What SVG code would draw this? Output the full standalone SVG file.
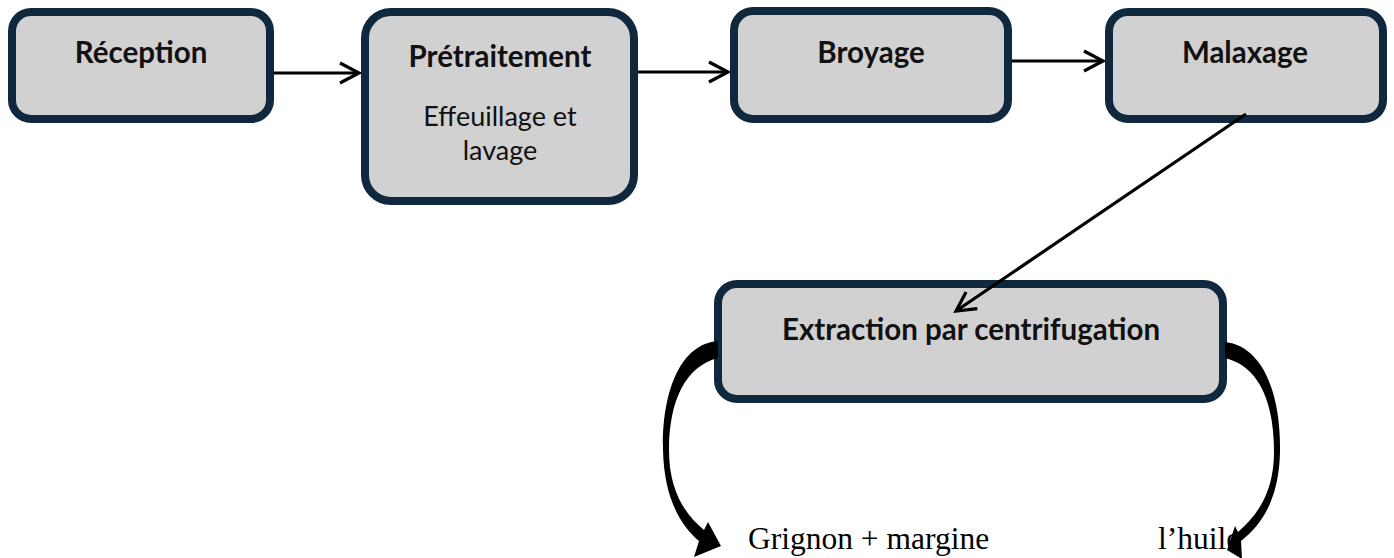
<svg xmlns="http://www.w3.org/2000/svg" width="1394" height="558" viewBox="0 0 1394 558">
<style>
.box{fill:#d1d1d1;stroke:#10283e;stroke-width:8}
.t{font-family:Lato,"Open Sans","Liberation Sans",sans-serif;font-weight:700;font-size:29.5px;fill:#111;text-anchor:middle}
.s{font-family:Lato,"Open Sans","Liberation Sans",sans-serif;font-weight:400;font-size:27px;fill:#111;text-anchor:middle}
.o{font-family:"Liberation Serif","Times New Roman",serif;font-size:31.5px;fill:#000}
.ln{stroke:#000;stroke-width:3.2;fill:none}
</style>
<defs>
<marker id="ah" markerUnits="userSpaceOnUse" viewBox="-22 -12 26 24" refX="0" refY="0" markerWidth="26" markerHeight="24" orient="auto">
<path d="M-19,-10 L0,0 L-19,10" fill="none" stroke="#000" stroke-width="3.2"/>
</marker>
</defs>
<g id="reception">
<rect class="box" x="12" y="12" width="258" height="107" rx="19"/>
<text class="t" x="141" y="63">Réception</text>
</g>
<g id="pretraitement">
<rect class="box" x="365" y="12" width="269" height="189" rx="26"/>
<text class="t" x="500" y="67">Prétraitement</text>
<text class="s" x="500" y="126">Effeuillage et</text>
<text class="s" x="500" y="160">lavage</text>
</g>
<g id="broyage">
<rect class="box" x="734" y="11" width="274" height="108" rx="19"/>
<text class="t" x="871" y="63">Broyage</text>
</g>
<g id="malaxage">
<rect class="box" x="1109" y="12" width="274" height="107" rx="19"/>
<text class="t" x="1245" y="63">Malaxage</text>
</g>
<g id="extraction">
<rect class="box" x="718" y="284" width="505" height="115" rx="19"/>
<text class="t" x="971" y="340">Extraction par centrifugation</text>
</g>
<g id="outputs">
<text class="o" x="748" y="549">Grignon + margine</text>
<text class="o" x="1158" y="549">l’huile</text>
</g>
<g id="connectors">
<line class="ln" x1="274" y1="73" x2="359" y2="73" marker-end="url(#ah)"/>
<line class="ln" x1="638" y1="72" x2="728" y2="72" marker-end="url(#ah)"/>
<line class="ln" x1="1012" y1="61" x2="1103" y2="61" marker-end="url(#ah)"/>
<line class="ln" x1="1246" y1="114" x2="956" y2="311" marker-end="url(#ah)"/>
<path id="curve-left" fill="#000" d="M718,341 C680,344 662,392 663,450 C664,497 680,525 699,541 L694,557 L721,546 L708,522 L704,530 C686,515 669,492 669,450 C669,400 686,366 718,358 Z"/>
<path id="curve-right" fill="#000" d="M1225,342 C1262,346 1281,392 1280,452 C1279,495 1265,522 1241,541 L1242,559 L1227,550 L1235,526 L1238,532 C1259,514 1274,490 1274,452 C1274,400 1258,366 1225,358 Z"/>
</g>
</svg>
